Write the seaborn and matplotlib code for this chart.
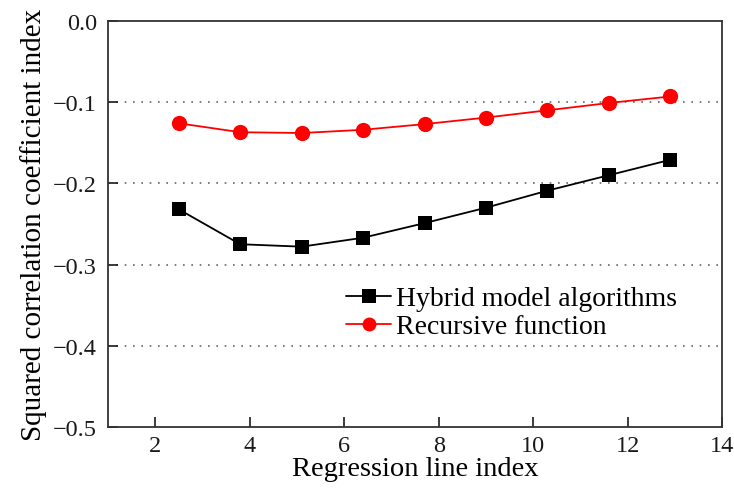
import matplotlib
matplotlib.use("Agg")
import matplotlib.pyplot as plt
import seaborn as sns
import pandas as pd

x_vals = [2.5, 3.8, 5.1, 6.4, 7.7, 9.0, 10.3, 11.6, 12.9]
hybrid = [-0.232, -0.275, -0.278, -0.267, -0.249, -0.230, -0.209, -0.190, -0.171]
recursive = [-0.126, -0.137, -0.138, -0.134, -0.127, -0.119, -0.110, -0.101, -0.093]
series_names = ["Hybrid model algorithms", "Recursive function"]

sns.set_theme(style="white")
plt.rcParams['font.family'] = ['Liberation Serif', 'DejaVu Serif']
plt.rcParams['text.color'] = 'black'
plt.rcParams['axes.labelcolor'] = 'black'

df = pd.concat([
    pd.DataFrame({"x": x_vals, "y": hybrid, "s": series_names[0]}),
    pd.DataFrame({"x": x_vals, "y": recursive, "s": series_names[1]}),
])

fig = plt.figure(figsize=(7.34, 4.89), dpi=100)
ax = fig.add_axes([0.147, 0.125, 0.837, 0.830])

sns.lineplot(data=df, x="x", y="y", hue="s", style="s",
             palette={series_names[0]: "black", series_names[1]: "#ff0000"},
             markers={series_names[0]: "s", series_names[1]: "o"},
             dashes=False, linewidth=1.3, markeredgewidth=0,
             ax=ax)
for ln in ax.lines:
    if ln.get_marker() == "s":
        ln.set_markersize(9.5)
    elif ln.get_marker() == "o":
        ln.set_markersize(11)

ax.set_xlim(1, 14)
ax.set_ylim(-0.5, 0.0)
ax.set_xticks([2, 4, 6, 8, 10, 12, 14])
ax.set_yticks([-0.5, -0.4, -0.3, -0.2, -0.1, 0.0])
ax.set_yticklabels(["\u22120.5", "\u22120.4", "\u22120.3", "\u22120.2", "\u22120.1", "0.0"])
for yv in [-0.1, -0.2, -0.3, -0.4]:
    ax.axhline(yv, color="#666666", linestyle=(0, (1, 4)), linewidth=1.2, zorder=0)

ax.tick_params(direction="in", length=7, width=1.2, labelsize=17.5, colors="#1a1a1a",
               bottom=True, left=True, top=False, right=False, pad=8)
ax.tick_params(axis="x", pad=6)
for sp in ax.spines.values():
    sp.set_color("#333333")
    sp.set_linewidth(1.3)

ax.set_xlabel("Regression line index", fontsize=20.5, labelpad=0, color="black")
ax.set_ylabel("Squared correlation coefficient index", fontsize=21, labelpad=4, color="black")

leg = ax.legend(loc="upper left", bbox_to_anchor=(0.37, 0.375), frameon=False,
                fontsize=20, handlelength=1.6, handletextpad=0.2, labelspacing=0.1,
                borderaxespad=0)
for h in leg.legend_handles:
    h.set_markersize(10)
for t in leg.get_texts():
    t.set_color("black")

fig.savefig("out.png", dpi=100)
